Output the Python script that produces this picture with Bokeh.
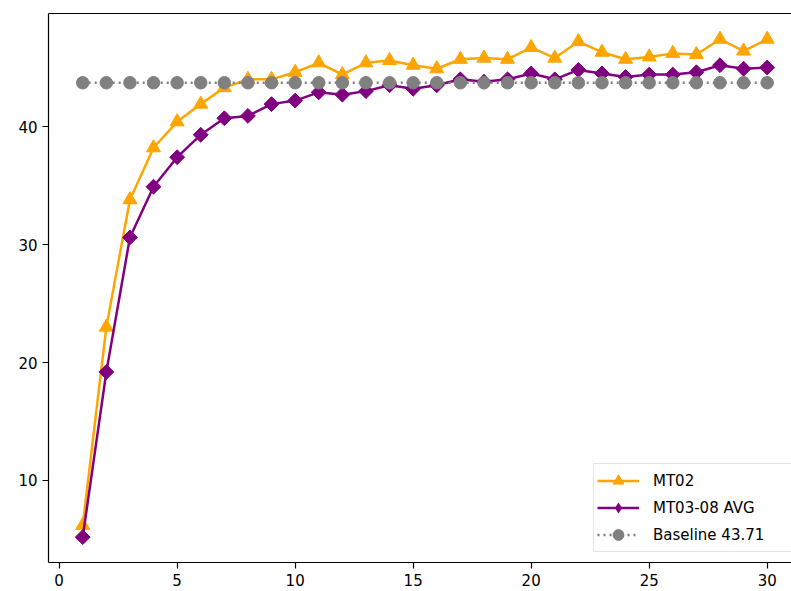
from bokeh.plotting import figure
from bokeh.models import Range1d, Legend, LegendItem, LinearAxis, FixedTicker
from bokeh.embed import file_html
from bokeh.resources import INLINE
import math

steps = list(range(1, 31))
mt02 = [6.2, 23.0, 33.8, 38.2, 40.4, 41.9, 43.3, 44.0, 44.0, 44.6,
        45.4, 44.4, 45.4, 45.6, 45.2, 44.9, 45.7, 45.8, 45.7, 46.7,
        45.8, 47.2, 46.3, 45.7, 45.9, 46.2, 46.1, 47.4, 46.4, 47.4]
mt03_08_avg = [5.2, 19.2, 30.6, 34.9, 37.4, 39.3, 40.7, 40.9, 41.9, 42.2,
               42.9, 42.7, 43.0, 43.5, 43.2, 43.5, 44.0, 43.8, 44.0, 44.5,
               44.0, 44.8, 44.5, 44.2, 44.4, 44.4, 44.6, 45.2, 44.9, 45.0]
baseline_value = 43.71
baseline = [baseline_value] * len(steps)
labels = ["MT02", "MT03-08 AVG", "Baseline 43.71"]
x_ticks = [0, 5, 10, 15, 20, 25, 30]
y_ticks = [10, 20, 30, 40]

ORANGE = "#FFA500"
PURPLE = "#800080"
GRAY = "#808080"
FONT = "DejaVu Sans"

p = figure(width=791, height=591, output_backend="svg", toolbar_location=None,
           x_range=Range1d(-0.45, 31.03), y_range=Range1d(3.05, 49.58),
           min_border_left=48, min_border_right=0, min_border_top=13,
           min_border_bottom=29)
p.outline_line_color = None
p.grid.visible = False
p.background_fill_color = "white"
p.border_fill_color = "white"

for ax in (p.xaxis[0], p.yaxis[0]):
    ax.axis_line_color = "black"
    ax.axis_line_width = 1.2
    ax.major_tick_line_color = "black"
    ax.major_tick_line_width = 1.2
    ax.major_tick_out = 6
    ax.major_tick_in = 0
    ax.minor_tick_line_color = None
    ax.major_label_text_font = FONT
    ax.major_label_text_font_size = "15px"
    ax.major_label_text_color = "black"
    ax.major_label_standoff = 5
p.xaxis[0].ticker = FixedTicker(ticks=x_ticks)
p.yaxis[0].ticker = FixedTicker(ticks=y_ticks)

top = LinearAxis(ticker=FixedTicker(ticks=[]), axis_line_color="black",
                 axis_line_width=1.2, major_tick_line_color=None,
                 minor_tick_line_color=None, major_label_text_font_size="0px",
                 major_label_standoff=0)
p.add_layout(top, "above")

l1 = p.line(steps, mt02, line_color=ORANGE, line_width=2.5)
s1 = p.scatter(steps, mt02, marker="triangle", size=14, fill_color=ORANGE,
               line_color=ORANGE)
l2 = p.line(steps, mt03_08_avg, line_color=PURPLE, line_width=2.5)
# diamond glyph used for the legend; hidden under the rotated squares in the plot
d2 = p.scatter(steps, mt03_08_avg, marker="diamond", size=14,
               fill_color=PURPLE, line_color=None)
s2 = p.scatter(steps, mt03_08_avg, marker="square", angle=math.pi / 4, size=10.5,
               fill_color=PURPLE, line_color=PURPLE)
l3 = p.line(steps, baseline, line_color=GRAY, line_width=2.5, line_dash="2 4")
s3 = p.scatter(steps, baseline, marker="circle", size=12.5, fill_color=GRAY,
               line_color=GRAY)

legend = Legend(items=[LegendItem(label=labels[0], renderers=[l1, s1]),
                       LegendItem(label=labels[1], renderers=[l2, d2]),
                       LegendItem(label=labels[2], renderers=[l3, s3])],
                location=(545, 10))
legend.label_text_font = FONT
legend.label_text_font_size = "15px"
legend.label_text_color = "black"
legend.glyph_width = 42
legend.glyph_height = 27
legend.label_height = 20
legend.label_width = 138
legend.label_standoff = 14
legend.spacing = 0
legend.padding = 3
legend.border_line_color = "#cccccc"
legend.border_line_width = 1
legend.background_fill_color = "white"
legend.background_fill_alpha = 0.8
p.add_layout(legend, "center")

open("out.html", "w").write(file_html(p, INLINE))
